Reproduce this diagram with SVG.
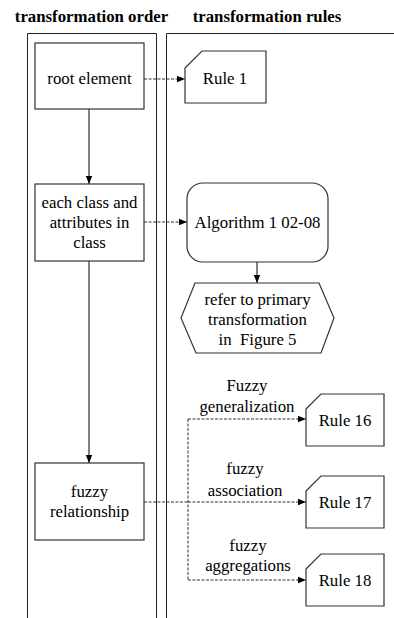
<svg xmlns="http://www.w3.org/2000/svg" width="394" height="618" viewBox="0 0 394 618">
<style>
text{font-family:"Liberation Serif","Times New Roman",Times,serif;font-size:16.8px;fill:#000;text-anchor:middle}
.title{font-weight:bold}
.shape{fill:#fff;stroke:#333;stroke-width:1.2}
.lane{fill:none;stroke:#222;stroke-width:1}
.solid{fill:none;stroke:#000;stroke-width:1}
.dash{fill:none;stroke:#333;stroke-width:1;stroke-dasharray:3 1.5}
</style>
<defs>
<marker id="arr" viewBox="0 0 8 8" refX="8" refY="4" markerWidth="8" markerHeight="8" markerUnits="userSpaceOnUse" orient="auto">
<path d="M0,0.8 L8,4 L0,7.2 Z" fill="#000"/>
</marker>
</defs>
<rect width="394" height="618" fill="#fff"/>
<g id="lanes">
<text class="title" x="91.5" y="22">transformation order</text>
<text class="title" x="267" y="22">transformation rules</text>
<path class="lane" d="M27.5,620 V33.5 H156.5 V620"/>
<path class="lane" d="M166.5,620 V33.5 H396"/>
</g>
<g id="connectors">
<line class="dash" x1="144" y1="79" x2="185" y2="79" marker-end="url(#arr)"/>
<line class="solid" x1="89" y1="109" x2="89" y2="184" marker-end="url(#arr)"/>
<line class="dash" x1="144" y1="222" x2="187" y2="222" marker-end="url(#arr)"/>
<line class="solid" x1="257" y1="262" x2="257" y2="283" marker-end="url(#arr)"/>
<line class="solid" x1="89" y1="261" x2="89" y2="463" marker-end="url(#arr)"/>
<line class="dash" x1="144" y1="502" x2="188" y2="502"/>
<line class="dash" x1="188" y1="419" x2="188" y2="580"/>
<line class="dash" x1="188" y1="419" x2="306" y2="419" marker-end="url(#arr)"/>
<line class="dash" x1="188" y1="502" x2="306" y2="502" marker-end="url(#arr)"/>
<line class="dash" x1="188" y1="580" x2="306" y2="580" marker-end="url(#arr)"/>
<text x="247" y="391">Fuzzy</text>
<text x="247" y="412">generalization</text>
<text x="245" y="474">fuzzy</text>
<text x="245" y="496">association</text>
<text x="248" y="551">fuzzy</text>
<text x="248" y="571">aggregations</text>
</g>
<g id="root-element">
<rect class="shape" x="35" y="43" width="109" height="66"/>
<text x="89.5" y="84">root element</text>
</g>
<g id="rule-1">
<path class="shape" d="M185,68 L202,51 H266 V103 H185 Z"/>
<text x="225" y="84">Rule 1</text>
</g>
<g id="each-class">
<rect class="shape" x="35" y="184" width="109" height="77"/>
<text x="89.5" y="208">each class and</text>
<text x="89.5" y="228">attributes in</text>
<text x="89.5" y="248">class</text>
</g>
<g id="algorithm">
<rect class="shape" x="187" y="183" width="141" height="79" rx="16" ry="16"/>
<text x="257.5" y="228">Algorithm 1 02-08</text>
</g>
<g id="refer-primary">
<path class="shape" d="M195,283 H319 L334,318 L321,353 H196 L181,318 Z"/>
<text x="257.5" y="305">refer to primary</text>
<text x="257.5" y="325">transformation</text>
<text x="257.5" y="345" xml:space="preserve">in  Figure 5</text>
</g>
<g id="fuzzy-relationship">
<rect class="shape" x="35" y="463" width="109" height="77"/>
<text x="89.5" y="497">fuzzy</text>
<text x="89.5" y="517">relationship</text>
</g>
<g id="rule-16">
<path class="shape" d="M306,409 L321,394 H384 V446 H306 Z"/>
<text x="345" y="426">Rule 16</text>
</g>
<g id="rule-17">
<path class="shape" d="M306,491 L321,476 H384 V528 H306 Z"/>
<text x="345" y="508">Rule 17</text>
</g>
<g id="rule-18">
<path class="shape" d="M306,569 L321,554 H384 V606 H306 Z"/>
<text x="345" y="586">Rule 18</text>
</g>
</svg>
